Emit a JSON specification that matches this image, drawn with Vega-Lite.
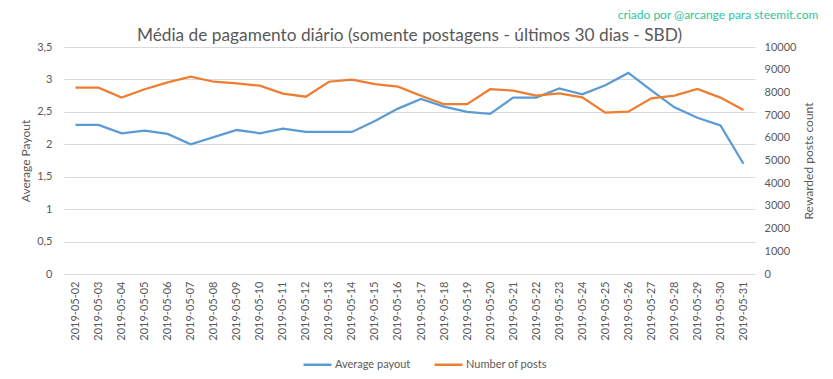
{
  "$schema": "https://vega.github.io/schema/vega-lite/v6.json",
  "width": 691,
  "height": 227,
  "autosize": "none",
  "padding": {"left": 64, "top": 47, "right": 78, "bottom": 105},
  "background": "white",
  "config": {
    "view": {"stroke": null},
    "font": "Lato",
    "axis": {"labelColor": "#595959", "titleColor": "#595959", "labelFont": "Lato", "titleFont": "Lato", "titleFontWeight": "normal", "titleFontSize": 12, "labelFontSize": 11}
  },
  "title": {
    "text": "Média de pagamento diário (somente postagens - últimos 30 dias - SBD)",
    "fontSize": 17.3, "fontWeight": "normal", "color": "#595959", "anchor": "middle", "offset": 6, "dy": 42, "font": "Lato"
  },
  "data": {"values": [
    {"date": "2019-05-02", "payout": 2.30, "posts": 8210},
    {"date": "2019-05-03", "payout": 2.30, "posts": 8210},
    {"date": "2019-05-04", "payout": 2.17, "posts": 7770},
    {"date": "2019-05-05", "payout": 2.21, "posts": 8140},
    {"date": "2019-05-06", "payout": 2.16, "posts": 8445},
    {"date": "2019-05-07", "payout": 2.00, "posts": 8690},
    {"date": "2019-05-08", "payout": 2.11, "posts": 8470},
    {"date": "2019-05-09", "payout": 2.22, "posts": 8400},
    {"date": "2019-05-10", "payout": 2.17, "posts": 8295},
    {"date": "2019-05-11", "payout": 2.24, "posts": 7945},
    {"date": "2019-05-12", "payout": 2.19, "posts": 7810},
    {"date": "2019-05-13", "payout": 2.19, "posts": 8470},
    {"date": "2019-05-14", "payout": 2.19, "posts": 8560},
    {"date": "2019-05-15", "payout": 2.36, "posts": 8360},
    {"date": "2019-05-16", "payout": 2.55, "posts": 8250},
    {"date": "2019-05-17", "payout": 2.70, "posts": 7855},
    {"date": "2019-05-18", "payout": 2.58, "posts": 7480},
    {"date": "2019-05-19", "payout": 2.50, "posts": 7480},
    {"date": "2019-05-20", "payout": 2.47, "posts": 8140},
    {"date": "2019-05-21", "payout": 2.72, "posts": 8075},
    {"date": "2019-05-22", "payout": 2.72, "posts": 7855},
    {"date": "2019-05-23", "payout": 2.86, "posts": 7960},
    {"date": "2019-05-24", "payout": 2.77, "posts": 7785},
    {"date": "2019-05-25", "payout": 2.91, "posts": 7105},
    {"date": "2019-05-26", "payout": 3.10, "posts": 7150},
    {"date": "2019-05-27", "payout": 2.83, "posts": 7740},
    {"date": "2019-05-28", "payout": 2.57, "posts": 7855},
    {"date": "2019-05-29", "payout": 2.41, "posts": 8150},
    {"date": "2019-05-30", "payout": 2.29, "posts": 7770},
    {"date": "2019-05-31", "payout": 1.70, "posts": 7225}
  ]},
  "layer": [
    {
      "mark": {"type": "line", "strokeWidth": 2.25},
      "encoding": {
        "x": {"field": "date", "type": "ordinal", "axis": {"orient": "bottom", "labelAngle": -90, "ticks": false, "domain": true, "domainColor": "#d9d9d9", "grid": false, "title": null, "labelPadding": 7}},
        "y": {"field": "payout", "type": "quantitative", "scale": {"domain": [0, 3.5]},
          "axis": {"orient": "left", "values": [0, 0.5, 1, 1.5, 2, 2.5, 3, 3.5], "format": ".1~f", "labelExpr": "replace(datum.label, '.', ',')", "grid": true, "gridColor": "#d9d9d9", "domain": false, "ticks": false, "labelPadding": 12, "title": "Average Payout", "titlePadding": 4}},
        "color": {"datum": "Average payout", "type": "nominal",
          "scale": {"domain": ["Average payout", "Number of posts"], "range": ["#5b9bd5", "#ed7d31"]},
          "legend": {"orient": "none", "legendX": 238, "legendY": 302, "direction": "horizontal", "title": null, "symbolType": "stroke", "symbolSize": 784, "symbolStrokeWidth": 2.5, "labelColor": "#595959", "labelFontSize": 11, "labelFont": "Lato", "columnPadding": 18, "labelOffset": 2}}
      }
    },
    {
      "mark": {"type": "line", "strokeWidth": 2.25},
      "encoding": {
        "x": {"field": "date", "type": "ordinal", "axis": {"orient": "top", "labels": false, "ticks": false, "domain": false, "grid": false, "title": "criado por @arcange para steemit.com", "titleColor": "#2ec4a0", "titleFontSize": 12, "titleAnchor": null, "titleAlign": "right", "titleBaseline": "middle", "titleX": 754, "titleY": -33}},
        "y": {"field": "posts", "type": "quantitative", "scale": {"domain": [0, 10000]},
          "axis": {"orient": "right", "values": [0, 1000, 2000, 3000, 4000, 5000, 6000, 7000, 8000, 9000, 10000], "format": "d", "grid": false, "domain": false, "ticks": false, "labelPadding": 9, "title": "Rewarded posts count", "titleAngle": 270, "titlePadding": 20}},
        "color": {"datum": "Number of posts", "type": "nominal"}
      }
    }
  ],
  "resolve": {"scale": {"y": "independent"}, "axis": {"x": "independent"}}
}
